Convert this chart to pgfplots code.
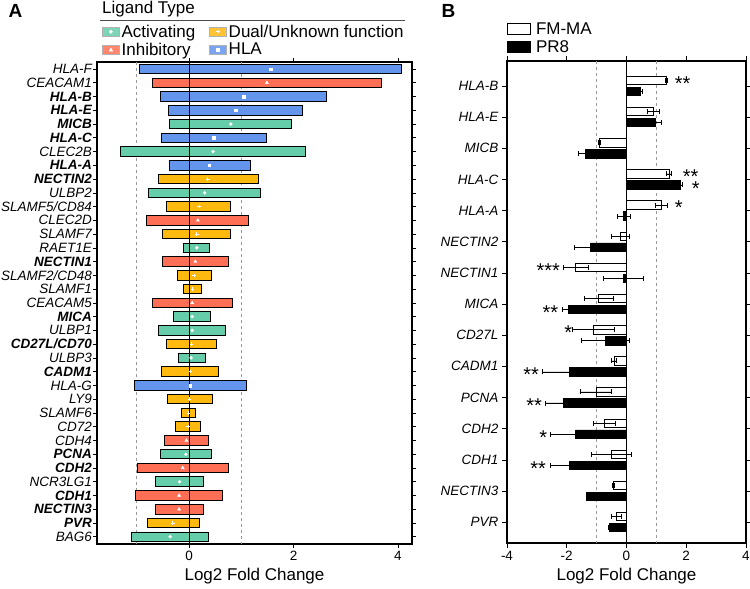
\documentclass[border=0pt]{standalone}
\usepackage{fontspec}
\setmainfont{Liberation Sans}
\usepackage{pgfplots}
\usepackage{pgfplotstable}
\pgfplotsset{compat=1.18}
\definecolor{actc}{HTML}{66CDAA}
\definecolor{inhc}{HTML}{FF6F55}
\definecolor{dualc}{HTML}{FFB90F}
\definecolor{hlac}{HTML}{6495ED}

% panel A: range (lo..hi) and mean per ligand, row index from the top
\pgfplotstableread{
idx lo hi mean
0 -0.94 4.06 1.56
2 -0.54 2.63 1.05
3 -0.40 2.17 0.89
5 -0.53 1.48 0.47
7 -0.38 1.18 0.39
23 -1.05 1.09 0.02
}\hlatab
\pgfplotstableread{
idx lo hi mean
1 -0.70 3.69 1.49
11 -0.82 1.14 0.17
14 -0.51 0.75 0.12
17 -0.70 0.83 0.06
27 -0.47 0.38 -0.05
29 -0.99 0.75 -0.12
31 -1.03 0.64 -0.19
32 -0.65 0.27 -0.19
}\inhtab
\pgfplotstableread{
idx lo hi mean
4 -0.37 1.97 0.80
6 -1.32 2.23 0.46
9 -0.77 1.36 0.30
13 -0.11 0.40 0.15
18 -0.29 0.41 0.06
19 -0.58 0.69 0.06
21 -0.21 0.31 0.04
28 -0.55 0.42 -0.06
30 -0.65 0.28 -0.18
34 -1.10 0.38 -0.36
}\acttab
\pgfplotstableread{
idx lo hi mean
8 -0.59 1.32 0.36
10 -0.43 0.80 0.19
12 -0.51 0.80 0.15
15 -0.22 0.42 0.10
16 -0.10 0.24 0.07
20 -0.43 0.53 0.05
22 -0.52 0.57 0.03
24 -0.42 0.44 0.01
25 -0.14 0.13 -0.01
26 -0.26 0.22 -0.02
33 -0.80 0.20 -0.31
}\dualtab

% panel B: mean log2 FC and error per virus
\pgfplotstableread{
idx fm fmerr pr prerr
0 1.33 0.03 0.47 0.05
1 0.90 0.21 0.96 0.19
2 -0.91 0.02 -1.36 0.25
3 1.42 0.09 1.80 0.08
4 1.17 0.21 -0.09 0.22
5 -0.21 0.31 -1.20 0.56
6 -1.70 0.41 -0.10 0.66
7 -0.93 0.48 -1.94 0.22
8 -1.11 0.69 -0.70 0.81
9 -0.42 0.09 -1.92 0.91
10 -1.02 0.51 -2.11 0.62
11 -0.74 0.37 -1.70 0.86
12 -0.52 0.67 -1.92 0.63
13 -0.43 0.03 -1.33 0.03
14 -0.34 0.16 -0.58 0.04
}\btab

\pgfplotsset{
  panelA/.style={
    scale only axis, width=315pt, height=482pt,
    at={(97pt,45pt)}, anchor=south west,
    xmin=-1.761, xmax=4.268, ymin=-0.51, ymax=34.53,
    y dir=reverse,
  },
  overA/.style={panelA, hide axis, xbar stacked, stack negative=on previous,
    bar width=9.5pt},
  rangebar/.style={draw=black, line width=0.9pt, fill=#1},
  keybox/.style={legend image code/.code={
    \draw[fill=#1!85, draw=gray!60] (0pt,-4pt) rectangle (17pt,4.5pt);}},
}

\begin{document}
\begin{tikzpicture}
\useasboundingbox (0,0) rectangle (750pt,589pt);

% ---------- panel A: frame, ticks, labels, legend ----------
\begin{axis}[panelA,
  axis line style={line width=2pt},
  tick align=outside, major tick length=4pt,
  tick style={black, line width=0.6pt},
  xtick={0,2,4},
  ytick={0,...,34},
  yticklabels={HLA-F, CEACAM1, \textbf{HLA-B}, \textbf{HLA-E}, \textbf{MICB},
    \textbf{HLA-C}, CLEC2B, \textbf{HLA-A}, \textbf{NECTIN2}, ULBP2, SLAMF5/CD84,
    CLEC2D, SLAMF7, RAET1E, \textbf{NECTIN1}, SLAMF2/CD48, SLAMF1, CEACAM5,
    \textbf{MICA}, ULBP1, \textbf{CD27L/CD70}, ULBP3, \textbf{CADM1}, HLA-G, LY9,
    SLAMF6, CD72, CDH4, \textbf{PCNA}, \textbf{CDH2}, NCR3LG1, \textbf{CDH1},
    \textbf{NECTIN3}, \textbf{PVR}, BAG6},
  yticklabel style={font=\fontsize{13.5}{14}\selectfont\itshape, inner sep=1pt},
  xticklabel style={font=\fontsize{13.5}{14}\selectfont},
  /pgf/number format/assume math mode=true,
  xlabel={Log2 Fold Change},
  xlabel style={font=\fontsize{17}{18}\selectfont},
  legend columns=2,
  legend cell align=left,
  legend style={at={(0.016,1.079)}, anchor=north west, draw=none, fill=none,
    inner sep=0pt, row sep=2pt, font=\fontsize{17}{17}\selectfont,
    /tikz/every even column/.append style={column sep=12pt},
    nodes={inner xsep=2pt, inner ysep=1pt}},
]
\addlegendimage{keybox=actc, legend image code/.append code={\fill[white] (8.5pt,0.25pt) circle (1.7pt);}}
\addlegendentry{Activating}
\addlegendimage{keybox=dualc, legend image code/.append code={\draw[white, line width=0.8pt] (6.8pt,0.25pt) -- (10.2pt,0.25pt) (8.5pt,-1.45pt) -- (8.5pt,1.95pt);}}
\addlegendentry{Dual/Unknown function}
\addlegendimage{keybox=inhc, legend image code/.append code={\fill[white] (6.7pt,-1.3pt) -- (10.3pt,-1.3pt) -- (8.5pt,1.9pt) -- cycle;}}
\addlegendentry{Inhibitory}
\addlegendimage{keybox=hlac, legend image code/.append code={\fill[white] (7pt,-1.25pt) rectangle (10pt,1.75pt);}}
\addlegendentry{HLA}
\addplot[forget plot, gray!80, dashed, line width=0.7pt] coordinates {(-1,-0.51) (-1,34.53)};
\addplot[forget plot, gray!80, dashed, line width=0.7pt] coordinates {(1,-0.51) (1,34.53)};
\end{axis}

% ---------- panel A: floating bars, one overlay per ligand type ----------
\begin{axis}[overA]
\addplot[draw=none, fill=none] table[x=lo, y=idx]{\hlatab};
\addplot[rangebar=hlac] table[x expr=\thisrow{hi}-\thisrow{lo}, y=idx]{\hlatab};
\end{axis}
\begin{axis}[overA]
\addplot[draw=none, fill=none] table[x=lo, y=idx]{\inhtab};
\addplot[rangebar=inhc] table[x expr=\thisrow{hi}-\thisrow{lo}, y=idx]{\inhtab};
\end{axis}
\begin{axis}[overA]
\addplot[draw=none, fill=none] table[x=lo, y=idx]{\acttab};
\addplot[rangebar=actc] table[x expr=\thisrow{hi}-\thisrow{lo}, y=idx]{\acttab};
\end{axis}
\begin{axis}[overA]
\addplot[draw=none, fill=none] table[x=lo, y=idx]{\dualtab};
\addplot[rangebar=dualc] table[x expr=\thisrow{hi}-\thisrow{lo}, y=idx]{\dualtab};
\end{axis}

% ---------- panel A: zero line and mean markers ----------
\begin{axis}[panelA, hide axis]
\addplot[black, line width=0.7pt] coordinates {(0,-0.51) (0,34.53)};
\addplot[only marks, mark=*, mark size=1.5pt, mark options={white}] table[x=mean, y=idx]{\acttab};
\addplot[only marks, mark=triangle*, mark size=1.8pt, mark options={white}] table[x=mean, y=idx]{\inhtab};
\addplot[only marks, mark=square*, mark size=1.3pt, mark options={white}] table[x=mean, y=idx]{\hlatab};
\addplot[only marks, mark=+, mark size=1.8pt, mark options={white, line width=0.8pt}] table[x=mean, y=idx]{\dualtab};
\end{axis}

% ---------- panel B ----------
\begin{axis}[
  scale only axis, width=239pt, height=482pt,
  at={(507pt,46pt)}, anchor=south west,
  xmin=-4, xmax=4, ymin=-0.8, ymax=14.67, y dir=reverse,
  xbar, bar width=8.5pt,
  axis line style={line width=2pt},
  tick align=outside, major tick length=5pt,
  tick style={black, line width=0.6pt},
  xtick={-4,-2,0,2,4},
  ytick={0,...,14},
  yticklabels={HLA-B, HLA-E, MICB, HLA-C, HLA-A, NECTIN2, NECTIN1, MICA,
    CD27L, CADM1, PCNA, CDH2, CDH1, NECTIN3, PVR},
  yticklabel style={font=\fontsize{13.5}{14}\selectfont\itshape},
  xticklabel style={font=\fontsize{13.5}{14}\selectfont},
  /pgf/number format/assume math mode=true,
  xlabel={Log2 Fold Change},
  xlabel style={font=\fontsize{17}{18}\selectfont},
  legend cell align=left,
  legend style={at={(0,1.081)}, anchor=north west, draw=none, fill=none,
    inner sep=0pt, row sep=2pt, font=\fontsize{17}{17}\selectfont,
    nodes={inner xsep=5pt, inner ysep=1pt}},
  legend image code/.code={\draw[#1, line width=0.8pt] (0pt,-5pt) rectangle (23pt,6pt);},
  error bars/error bar style={black, line width=0.6pt},
  error bars/error mark options={black, mark size=2.5pt, line width=0.6pt, rotate=90},
]
\addplot[forget plot, sharp plot, gray!80, dashed, line width=0.7pt] coordinates {(-1,-0.8) (-1,14.67)};
\addplot[forget plot, sharp plot, gray!80, dashed, line width=0.7pt] coordinates {(1,-0.8) (1,14.67)};
\addplot[forget plot, sharp plot, black, line width=0.7pt] coordinates {(0,-0.8) (0,14.67)};
\addplot[fill=white, draw=black, line width=0.8pt, bar shift=5.5pt,
  error bars/.cd, x dir=both, x explicit]
  table[x=fm, y=idx, x error=fmerr]{\btab};
\addlegendentry{FM-MA}
\addplot[fill=black, draw=black, line width=0.8pt, bar shift=-5.5pt,
  error bars/.cd, x dir=both, x explicit]
  table[x=pr, y=idx, x error=prerr]{\btab};
\addlegendentry{PR8}
\begin{scope}[every node/.style={font=\fontsize{20}{20}\selectfont, inner sep=0pt, yshift=-3pt}]
\node at (axis cs:1.88,-0.18) {**};
\node at (axis cs:2.15,2.82) {**};
\node at (axis cs:2.32,3.20) {*};
\node at (axis cs:1.75,3.82) {*};
\node at (axis cs:-2.62,5.82) {***};
\node at (axis cs:-2.55,7.18) {**};
\node at (axis cs:-1.95,7.82) {*};
\node at (axis cs:-3.19,9.18) {**};
\node at (axis cs:-3.09,10.18) {**};
\node at (axis cs:-2.79,11.18) {*};
\node at (axis cs:-2.96,12.18) {**};
\end{scope}
\end{axis}

% panel letters and legend title
\node[anchor=base west, font=\fontsize{19}{20}\selectfont\bfseries] at (5pt,571pt) {A};
\node[anchor=base west, font=\fontsize{19}{20}\selectfont\bfseries] at (438pt,571pt) {B};
\node[anchor=base west, font=\fontsize{17}{17}\selectfont, inner sep=0pt] at (102pt,575pt) {Ligand Type};
\draw[gray!60!black, line width=0.8pt] (100pt,569pt) -- (405pt,569pt);
\end{tikzpicture}
\end{document}
